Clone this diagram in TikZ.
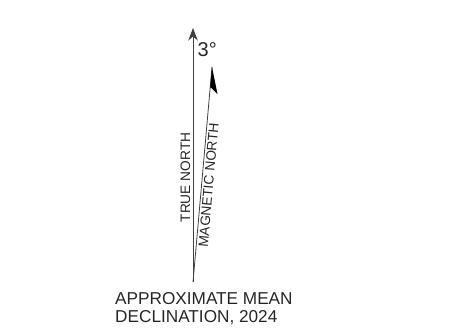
\documentclass[tikz,border=0pt]{standalone}
\usepackage{fontspec}
\setmainfont{Liberation Sans}
\usetikzlibrary{arrows.meta}
\tikzset{
  northline/.style={line width=0.8pt, draw=black!75},
  lbl/.style={inner sep=0pt, font=\fontsize{13.7}{15}\selectfont, text=black!85},
  caption/.style={inner sep=0pt, anchor=base west, font=\fontsize{17.2}{18}\selectfont, text=black!85},
}
\begin{document}
\begin{tikzpicture}[x=1pt,y=-1pt]
\useasboundingbox (0,0) rectangle (462,328);
\coordinate (base) at (193,282);
\coordinate (tn) at (193,28);
\coordinate (mn) at (212,67);
\coordinate (mnbarb) at (217.5,94);
\coordinate (mninset) at (210.2,87);
% true north
\draw[northline, -{Stealth[length=12.5pt,width=9.5pt,inset=4pt]}] (base) -- (tn);
% magnetic north
\draw[northline] (base) -- (mn);
\fill[black] (mn) -- (mnbarb) -- (mninset) -- cycle;
% labels
\node[lbl, rotate=90] (tnl) at (185.5,177.5) {TRUE NORTH};
\node[lbl, rotate=85] (mnl) at (208.5,185) {MAGNETIC NORTH};
\node[inner sep=0pt, anchor=base west, font=\fontsize{20}{22}\selectfont, text=black!85] (deg) at (197.5,57) {3°};
\node[caption] (cap1) at (115,304.5) {APPROXIMATE MEAN};
\node[caption] (cap2) at (115,322) {DECLINATION, 2024};
\end{tikzpicture}
\end{document}
